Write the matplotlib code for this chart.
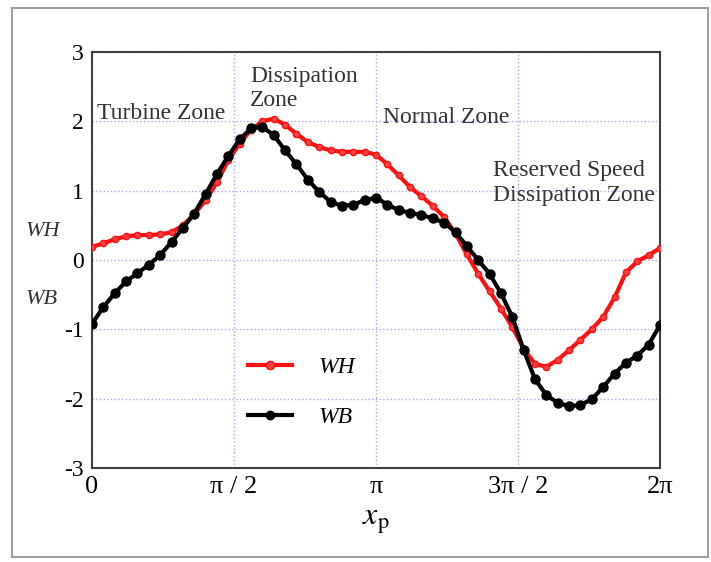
import numpy as np
import matplotlib
matplotlib.use("Agg")
import matplotlib.pyplot as plt
from matplotlib.patches import Rectangle

plt.rcParams['font.family'] = ['Liberation Serif', 'DejaVu Serif']
plt.rcParams['mathtext.fontset'] = 'stix'

# posición en unidades de pi
x_pi = [0.00, 0.04, 0.08, 0.12, 0.16, 0.20, 0.24, 0.28, 0.32, 0.36,
        0.40, 0.44, 0.48, 0.52, 0.56, 0.60, 0.64, 0.68, 0.72, 0.76,
        0.80, 0.84, 0.88, 0.92, 0.96, 1.00, 1.04, 1.08, 1.12, 1.16,
        1.20, 1.24, 1.28, 1.32, 1.36, 1.40, 1.44, 1.48, 1.52, 1.56,
        1.60, 1.64, 1.68, 1.72, 1.76, 1.80, 1.84, 1.88, 1.92, 1.96, 2.00]

wh = [0.19, 0.24, 0.30, 0.34, 0.36, 0.36, 0.37, 0.40, 0.50, 0.66,
      0.86, 1.12, 1.44, 1.68, 1.88, 2.00, 2.04, 1.95, 1.82, 1.70,
      1.63, 1.58, 1.56, 1.56, 1.56, 1.52, 1.38, 1.22, 1.05, 0.92,
      0.78, 0.62, 0.38, 0.08, -0.20, -0.45, -0.70, -0.97, -1.28, -1.50,
      -1.54, -1.44, -1.30, -1.15, -1.00, -0.82, -0.54, -0.18, -0.02, 0.07, 0.17]

wb = [-0.92, -0.68, -0.48, -0.31, -0.19, -0.07, 0.07, 0.26, 0.46, 0.67,
      0.95, 1.24, 1.50, 1.74, 1.90, 1.92, 1.80, 1.58, 1.38, 1.16,
      0.98, 0.84, 0.78, 0.80, 0.86, 0.90, 0.80, 0.72, 0.68, 0.65,
      0.60, 0.54, 0.40, 0.20, 0.00, -0.20, -0.48, -0.82, -1.30, -1.72,
      -1.95, -2.06, -2.11, -2.09, -2.01, -1.83, -1.64, -1.48, -1.38, -1.22, -0.94]

tick_pos = [0, 0.5, 1, 1.5, 2]
tick_lab = ['0', 'π / 2', 'π', '3π / 2', '2π']

x = np.array(x_pi) * np.pi

fig = plt.figure(figsize=(7.11, 5.62), dpi=100)
# marco gris de la captura
fig.patches.append(Rectangle((12/711, 1-557/562), 696/711, 549/562,
                             transform=fig.transFigure, fill=False,
                             edgecolor='#a0a0a0', lw=1.5))
ax = fig.add_axes([92/711, 1-468/562, 568/711, 416/562])

ax.plot(x, wh, '-o', color='#ff1010', lw=3, ms=4.5, mfc='#ff4040',
        mec='#ff1010', label='WH', zorder=3)
ax.plot(x, wb, '-o', color='black', lw=3, ms=6.5, label='WB', zorder=4)

ax.set_xlim(0, 2*np.pi)
ax.set_ylim(-3, 3)
ax.set_xticks(np.array(tick_pos) * np.pi)
ax.set_xticklabels(tick_lab, fontsize=19)
ax.set_yticks(range(-3, 4))
ax.set_yticklabels([str(v) for v in range(-3, 4)], fontsize=17)
ax.tick_params(length=0, pad=6)
ax.grid(True, linestyle=':', color='#a8a8f0', lw=1)
for s in ax.spines.values():
    s.set_color('#404040')
    s.set_linewidth(1.5)

ax.set_xlabel(r'$x_{\mathrm{p}}$', fontsize=23, labelpad=6)

fig.text(26/711, 1-232/562, 'WH', fontsize=16, style='italic', va='center', color='#333333')
fig.text(26/711, 1-300/562, 'WB', fontsize=16, style='italic', va='center', color='#333333')

# zonas
tc = '#333333'
ax.text(0.018*np.pi, 2.12, 'Turbine Zone', fontsize=17, color=tc, va='center')
ax.text(0.556*np.pi, 2.47, 'Dissipation\nZone', fontsize=17, color=tc, va='center', linespacing=1.2)
ax.text(1.025*np.pi, 2.06, 'Normal Zone', fontsize=17, color=tc, va='center')
ax.text(1.412*np.pi, 1.11, 'Reserved Speed\nDissipation Zone', fontsize=17, color=tc,
        va='center', linespacing=1.25)

leg = ax.legend(loc='upper left', bbox_to_anchor=(0.238, 0.319), frameon=False,
                prop={'style': 'italic', 'size': 17}, handlelength=1.85,
                handletextpad=1.1, labelspacing=1.2, numpoints=1)
for h in leg.get_lines():
    h.set_markersize(6)

fig.savefig('out.png', dpi=100)
